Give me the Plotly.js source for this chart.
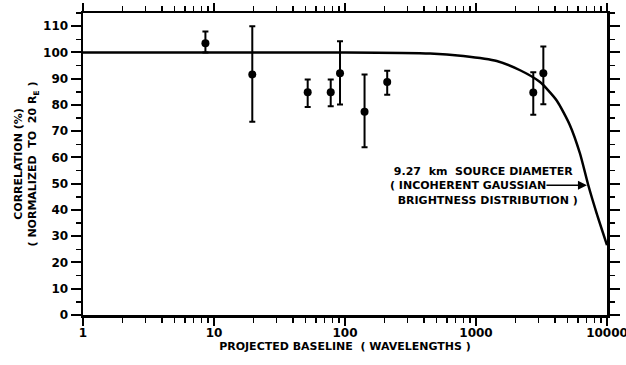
<!DOCTYPE html>
<html>
<head>
<meta charset="utf-8">
<script src="https://cdn.plot.ly/plotly-3.0.1.min.js"></script>
<style>html,body{margin:0;padding:0;background:#fff;}#chart{width:626px;height:365px;}</style>
</head>
<body>
<div id="chart"></div>
<script>
// Measured points (projected baseline in wavelengths, correlation %)
const baseline = [8.6, 19.6, 51.9, 77.8, 91.6, 141, 210, 2737, 3266];
const correlation = [103.5, 91.6, 84.8, 84.8, 92.1, 77.4, 88.7, 84.7, 92.1];
const errUpper = [108.0, 110.0, 89.7, 89.7, 104.2, 91.6, 93.0, 92.4, 102.2];
const errLower = [100.0, 73.6, 79.2, 79.5, 80.2, 63.9, 83.9, 76.3, 80.3];

// Model curve (9.27 km Gaussian source)
const curveBaseline = [1, 100, 446, 800, 1440, 2170, 3080, 4130, 5220, 6220, 7200, 8340, 10000];
const curveCorrelation = [100, 100, 99.6, 98.6, 96.7, 93.2, 88.7, 81.7, 72.2, 61.5, 49.4, 38.7, 26.6];

const xTickVals = [1, 10, 100, 1000, 10000];
const xTickText = ['1', '10', '100', '1000', '10000'];
const xMinorVals = [2,3,4,5,6,7,8,9,20,30,40,50,60,70,80,90,200,300,400,500,600,700,800,900,2000,3000,4000,5000,6000,7000,8000,9000];

const errPlus = errUpper.map((u, i) => u - correlation[i]);
const errMinus = errLower.map((l, i) => correlation[i] - l);

const FONT = 'DejaVu Sans, Verdana, sans-serif';

const traces = [
  {
    x: curveBaseline, y: curveCorrelation, type: 'scatter', mode: 'lines',
    line: {color: '#000', width: 2.5, shape: 'spline', smoothing: 0.6},
    hoverinfo: 'skip', showlegend: false
  },
  {
    x: baseline, y: correlation, type: 'scatter', mode: 'markers',
    marker: {color: '#000', size: 8},
    error_y: {type: 'data', symmetric: false, array: errPlus, arrayminus: errMinus,
              color: '#000', thickness: 2, width: 3},
    showlegend: false
  }
];

const layout = {
  width: 626, height: 365,
  margin: {l: 83, r: 19, t: 13, b: 50},
  paper_bgcolor: '#fff', plot_bgcolor: '#fff',
  font: {family: FONT, size: 12, color: '#000', weight: 'bold'},
  showlegend: false,
  xaxis: {
    type: 'log', range: [0, 4],
    tickvals: xTickVals, ticktext: xTickText,
    ticks: 'outside', ticklen: 8, tickwidth: 2, tickcolor: '#000',
    ticklabeloverflow: 'allow', ticklabelstandoff: -3,
    minor: {ticks: 'outside', ticklen: 5, tickwidth: 1.5, tickcolor: '#000', tickvals: xMinorVals},
    showline: true, linecolor: '#000', linewidth: 2.5, mirror: 'allticks',
    showgrid: false, zeroline: false,
    tickfont: {family: FONT, size: 12, weight: 'bold'},
    title: {text: 'PROJECTED BASELINE  ( WAVELENGTHS )', font: {family: FONT, size: 11, weight: 'bold'}, standoff: 4}
  },
  yaxis: {
    range: [0, 115], dtick: 10, tick0: 0,
    ticks: 'outside', ticklen: 10, tickwidth: 2, tickcolor: '#000',
    minor: {ticks: 'outside', ticklen: 5, tickwidth: 1.5, tickcolor: '#000', dtick: 5},
    showline: true, linecolor: '#000', linewidth: 2.5, mirror: 'allticks',
    showgrid: false, zeroline: false,
    tickfont: {family: FONT, size: 12, weight: 'bold'},
    title: {text: 'CORRELATION (%)<br>( NORMALIZED  TO  20 R<sub>E</sub> )', font: {family: FONT, size: 11, weight: 'bold'}, standoff: 4}
  },
  annotations: [
    {
      xref: 'x', yref: 'y', x: Math.log10(214), y: 49,
      xanchor: 'left', yanchor: 'middle', align: 'left', showarrow: false,
      text: ' 9.27  km  SOURCE DIAMETER<br>( INCOHERENT GAUSSIAN<br>  BRIGHTNESS DISTRIBUTION )',
      font: {family: FONT, size: 11, weight: 'bold', color: '#000'}
    },
    {
      xref: 'x', yref: 'y', x: Math.log10(7030), y: 49.4,
      ax: -44, ay: 0, showarrow: true, arrowhead: 2, arrowsize: 1.2, arrowwidth: 1.5,
      arrowcolor: '#000', text: ' '
    }
  ]
};

Plotly.newPlot('chart', traces, layout, {staticPlot: true, displayModeBar: false});
</script>
</body>
</html>
